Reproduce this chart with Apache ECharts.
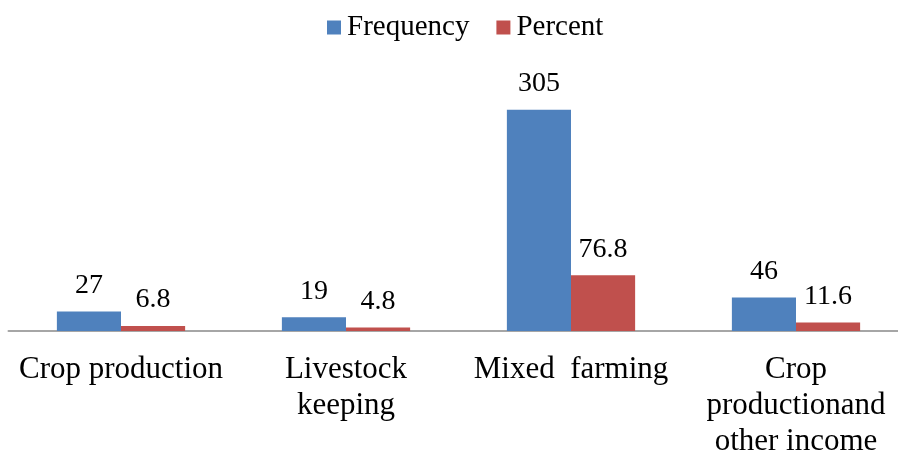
<!DOCTYPE html>
<html>
<head>
<meta charset="utf-8">
<style>
  html, body { margin: 0; padding: 0; background: #fff; }
  #chart { width: 898px; height: 457px; }
</style>
<script src="https://cdn.jsdelivr.net/npm/echarts@6/dist/echarts.min.js"></script>
</head>
<body>
<div id="chart"></div>
<script>
// Main source of household income
const categories = ['Crop production', 'Livestock\nkeeping', 'Mixed  farming', 'Crop\nproductionand\nother income'];
const frequency = [27, 19, 305, 46];
const percent = [6.8, 4.8, 76.8, 11.6];
const seriesNames = ['Frequency', 'Percent'];

const serif = '"Liberation Serif", "Times New Roman", "DejaVu Serif", serif';

const chart = echarts.init(document.getElementById('chart'), null, { renderer: 'canvas' });

const valueLabel = {
  show: true,
  position: 'top',
  distance: 12,
  fontFamily: serif,
  fontSize: 28,
  color: '#000'
};

chart.setOption({
  animation: false,
  textStyle: { fontFamily: serif },
  legend: {
    top: 8,
    left: 322,
    itemWidth: 14,
    itemHeight: 14,
    itemGap: 27,
    icon: 'rect',
    textStyle: { fontFamily: serif, fontSize: 29, color: '#000', padding: [0, 0, 0, 1] },
    data: seriesNames
  },
  // plot area runs slightly past the right edge of the canvas
  grid: {
    left: 8.5, width: 900, top: 77, bottom: 126,
    containLabel: false,
    outerBoundsMode: 'none'
  },
  xAxis: {
    type: 'category',
    data: categories,
    axisLine: { show: true, lineStyle: { color: '#A6A6A6', width: 2 } },
    axisTick: { show: false },
    axisLabel: {
      interval: 0,
      margin: 21,
      fontFamily: serif,
      fontSize: 31,
      lineHeight: 36,
      color: '#000',
      align: 'center'
    }
  },
  yAxis: {
    type: 'value',
    min: 0,
    max: 350,
    show: false,
    splitLine: { show: false }
  },
  series: [
    {
      name: seriesNames[0],
      type: 'bar',
      data: frequency,
      barGap: '0%',
      barCategoryGap: '43%',
      itemStyle: { color: '#4F81BD' },
      label: valueLabel
    },
    {
      name: seriesNames[1],
      type: 'bar',
      data: percent,
      barGap: '0%',
      barCategoryGap: '43%',
      itemStyle: { color: '#C0504D' },
      label: valueLabel
    }
  ]
});
</script>
</body>
</html>
